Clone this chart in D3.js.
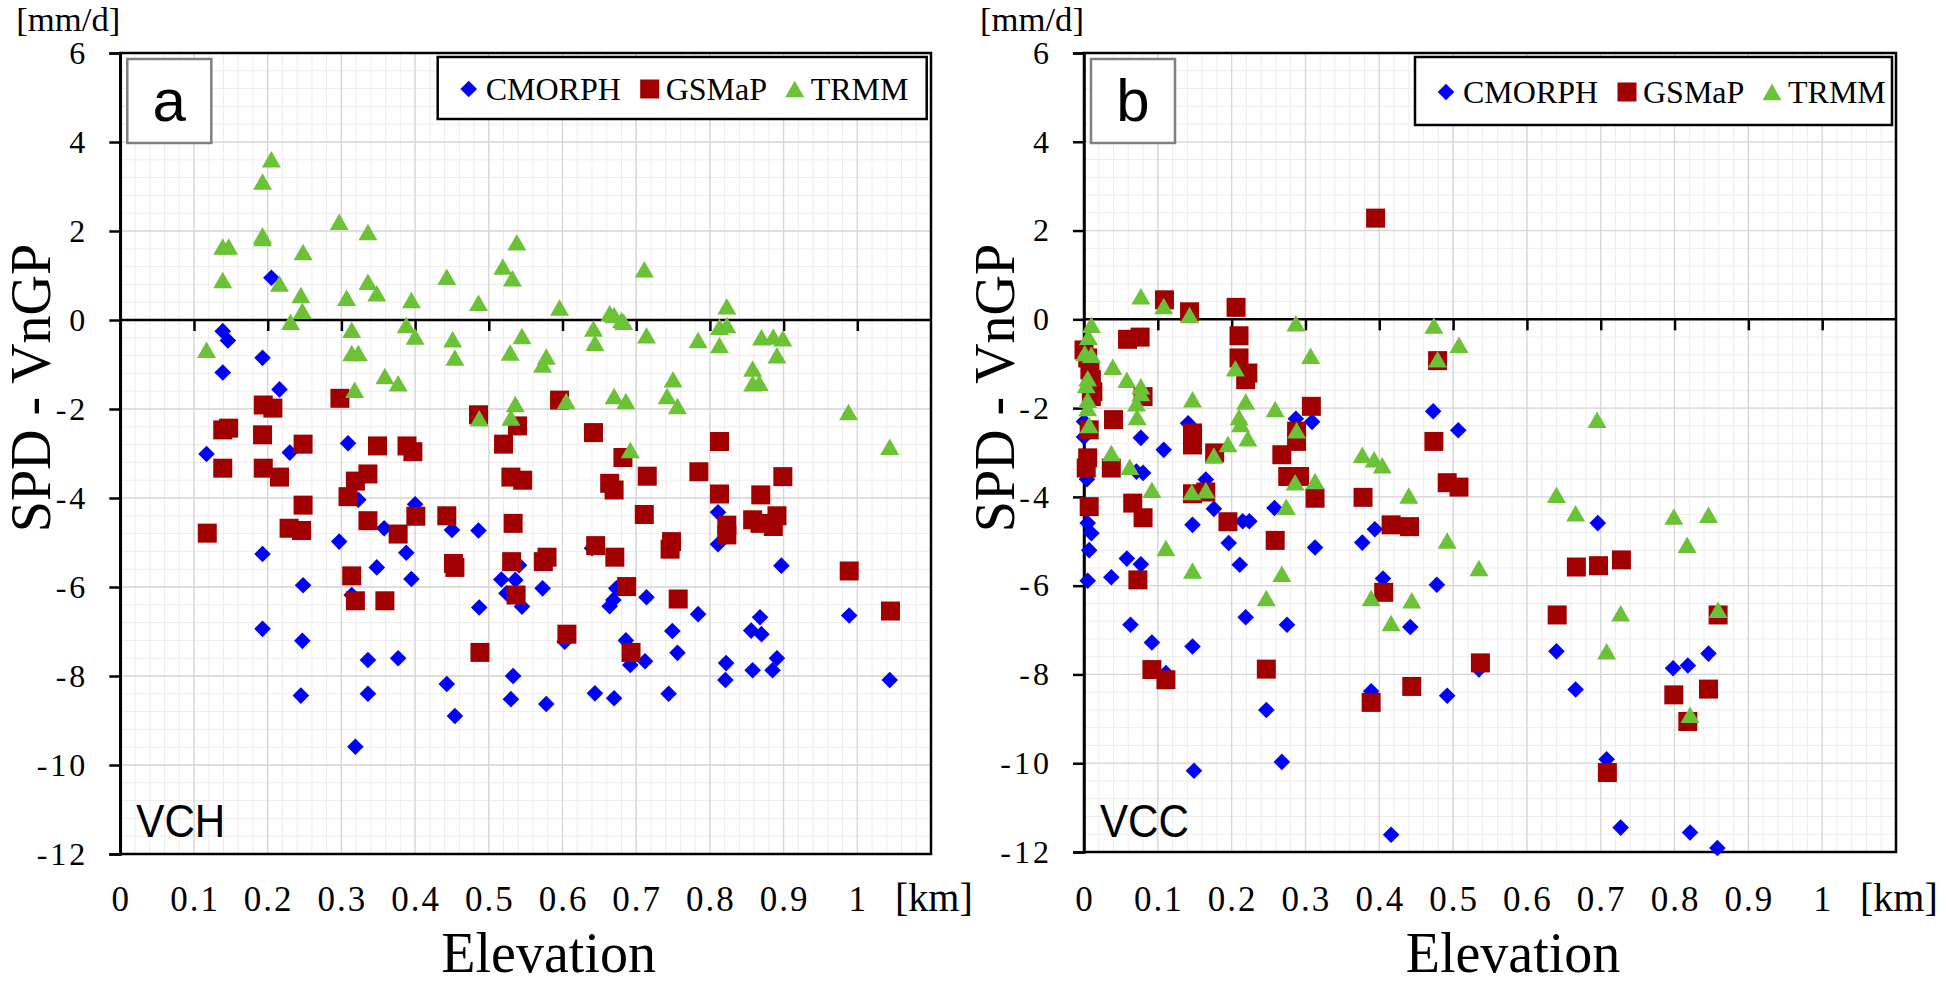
<!DOCTYPE html>
<html>
<head>
<meta charset="utf-8">
<script src="https://cdn.jsdelivr.net/npm/d3@7"></script>
<style>
body { margin: 0; background: #fff; }
svg text { font-family: "Liberation Serif", "Times New Roman", serif; fill: #000; }
</style>
</head>
<body>
<svg id="chart" width="1946" height="985"></svg>
<script>
// [elevation (km), SPD - VnGP (mm/d)]
var vchCmorph = [[0.205,0.95],[0.139,-0.25],[0.146,-0.46],[0.139,-1.18],[0.193,-0.85],[0.216,-1.56],[0.117,-3.01],[0.230,-2.98],[0.309,-2.77],[0.323,-4.04],[0.400,-4.14],[0.193,-5.26],[0.248,-5.96],[0.193,-6.94],[0.247,-7.21],[0.245,-8.44],[0.297,-4.98],[0.319,-9.59],[0.314,-6.18],[0.336,-7.64],[0.336,-8.40],[0.348,-5.56],[0.358,-4.68],[0.377,-7.60],[0.388,-5.23],[0.395,-5.82],[0.443,-8.18],[0.454,-8.90],[0.450,-4.72],[0.486,-4.73],[0.487,-6.46],[0.533,-8.00],[0.530,-8.52],[0.578,-8.63],[0.517,-5.83],[0.536,-5.84],[0.541,-5.51],[0.524,-6.14],[0.545,-6.44],[0.573,-6.03],[0.603,-7.23],[0.640,-5.13],[0.644,-8.39],[0.670,-8.50],[0.664,-6.43],[0.669,-6.29],[0.673,-6.03],[0.686,-7.20],[0.692,-7.75],[0.712,-7.67],[0.714,-6.23],[0.744,-8.40],[0.749,-6.99],[0.756,-7.48],[0.784,-6.61],[0.811,-4.32],[0.811,-5.04],[0.822,-7.71],[0.821,-8.09],[0.858,-7.87],[0.856,-6.98],[0.868,-6.68],[0.870,-7.06],[0.891,-7.60],[0.885,-7.87],[0.897,-5.52],[0.989,-6.64],[1.044,-8.09]];

var vchGsmap = [[0.298,-1.76],[0.194,-1.91],[0.207,-1.98],[0.139,-2.47],[0.147,-2.43],[0.193,-2.58],[0.139,-3.33],[0.194,-3.33],[0.216,-3.53],[0.248,-2.79],[0.349,-2.83],[0.389,-2.83],[0.397,-2.96],[0.336,-3.46],[0.319,-3.62],[0.309,-3.97],[0.248,-4.16],[0.229,-4.68],[0.246,-4.73],[0.118,-4.79],[0.336,-4.51],[0.377,-4.81],[0.401,-4.41],[0.443,-4.40],[0.314,-5.75],[0.319,-6.31],[0.359,-6.31],[0.452,-5.47],[0.454,-5.56],[0.488,-7.47],[0.486,-2.13],[0.596,-1.80],[0.539,-2.38],[0.520,-2.79],[0.642,-2.53],[0.682,-3.09],[0.813,-2.73],[0.530,-3.53],[0.546,-3.60],[0.664,-3.67],[0.670,-3.82],[0.715,-3.51],[0.785,-3.41],[0.813,-3.91],[0.869,-3.93],[0.899,-3.52],[0.533,-4.57],[0.711,-4.37],[0.645,-5.07],[0.671,-5.33],[0.531,-5.43],[0.574,-5.43],[0.579,-5.33],[0.687,-5.99],[0.537,-6.18],[0.757,-6.27],[0.606,-7.06],[0.693,-7.47],[0.748,-4.98],[0.746,-5.15],[0.823,-4.61],[0.823,-4.83],[0.858,-4.49],[0.868,-4.57],[0.886,-4.64],[0.891,-4.40],[0.989,-5.64],[1.045,-6.54]];

var vchTrmm = [[0.205,3.61],[0.193,3.11],[0.193,1.90],[0.193,1.84],[0.139,1.65],[0.147,1.65],[0.139,0.90],[0.216,0.82],[0.248,1.53],[0.245,0.56],[0.247,0.21],[0.231,-0.04],[0.117,-0.67],[0.297,2.21],[0.307,0.50],[0.314,-0.22],[0.314,-0.74],[0.323,-0.74],[0.318,-1.57],[0.336,1.98],[0.336,0.86],[0.348,0.60],[0.359,-1.26],[0.377,-1.42],[0.388,-0.11],[0.400,-0.37],[0.395,0.45],[0.443,0.97],[0.451,-0.43],[0.454,-0.84],[0.486,0.39],[0.538,1.75],[0.519,1.20],[0.532,0.94],[0.596,0.28],[0.545,-0.36],[0.529,-0.73],[0.578,-0.82],[0.573,-1.00],[0.642,-0.19],[0.644,-0.51],[0.664,0.15],[0.670,0.11],[0.680,0.00],[0.683,-0.04],[0.711,1.14],[0.714,-0.34],[0.784,-0.45],[0.823,0.31],[0.813,-0.15],[0.823,-0.11],[0.813,-0.56],[0.870,-0.39],[0.886,-0.37],[0.899,-0.41],[0.891,-0.79],[0.858,-1.09],[0.858,-1.42],[0.867,-1.41],[0.750,-1.33],[0.742,-1.71],[0.756,-1.93],[0.670,-1.71],[0.686,-1.82],[0.605,-1.82],[0.536,-1.89],[0.530,-2.19],[0.487,-2.21],[0.692,-2.92],[0.988,-2.07],[1.044,-2.85]];

var vccCmorph = [[0.473,-2.07],[0.507,-2.50],[0.309,-2.31],[0.287,-2.24],[0.141,-2.34],[0.077,-2.67],[0.108,-2.94],[0.071,-3.43],[0.080,-3.46],[0.165,-3.61],[0.000,-2.30],[0.000,-2.65],[0.004,-3.60],[0.005,-4.59],[0.010,-4.82],[0.007,-5.20],[0.005,-5.89],[0.037,-5.81],[0.058,-5.39],[0.077,-5.52],[0.063,-6.88],[0.092,-7.28],[0.111,-7.97],[0.147,-7.37],[0.147,-4.63],[0.149,-10.17],[0.176,-4.27],[0.196,-5.04],[0.211,-5.53],[0.219,-6.71],[0.215,-4.55],[0.224,-4.55],[0.247,-8.80],[0.258,-4.25],[0.275,-6.88],[0.268,-9.97],[0.313,-5.14],[0.377,-5.03],[0.394,-4.73],[0.405,-5.84],[0.389,-8.38],[0.442,-6.93],[0.416,-11.61],[0.478,-5.98],[0.492,-8.48],[0.535,-7.89],[0.696,-4.59],[0.640,-7.48],[0.666,-8.34],[0.708,-9.91],[0.727,-11.45],[0.821,-11.56],[0.858,-11.91],[0.798,-7.86],[0.818,-7.80],[0.846,-7.53]];

var vccGsmap = [[0.395,2.28],[0.109,0.44],[0.143,0.17],[0.206,0.27],[0.059,-0.45],[0.076,-0.40],[0.210,-0.37],[0.000,-0.69],[0.005,-0.87],[0.008,-1.14],[0.010,-1.36],[0.012,-1.63],[0.010,-1.74],[0.210,-0.87],[0.222,-1.21],[0.219,-1.36],[0.080,-1.74],[0.040,-2.26],[0.007,-2.49],[0.147,-2.56],[0.147,-2.83],[0.177,-3.01],[0.005,-3.12],[0.003,-3.35],[0.037,-3.35],[0.007,-4.22],[0.066,-4.14],[0.080,-4.47],[0.147,-3.93],[0.165,-3.89],[0.195,-4.56],[0.073,-5.87],[0.308,-1.96],[0.288,-2.52],[0.288,-2.75],[0.268,-3.05],[0.276,-3.54],[0.292,-3.54],[0.313,-4.03],[0.378,-4.01],[0.416,-4.63],[0.441,-4.67],[0.259,-4.98],[0.406,-6.15],[0.479,-0.93],[0.474,-2.75],[0.492,-3.68],[0.508,-3.78],[0.092,-7.89],[0.111,-8.12],[0.247,-7.88],[0.389,-8.63],[0.444,-8.27],[0.667,-5.58],[0.697,-5.55],[0.728,-5.42],[0.641,-6.66],[0.537,-7.74],[0.799,-8.46],[0.846,-8.33],[0.818,-9.06],[0.709,-10.21],[0.859,-6.66]];

var vccTrmm = [[0.077,0.52],[0.108,0.30],[0.143,0.10],[0.287,-0.09],[0.474,-0.14],[0.508,-0.57],[0.479,-0.90],[0.307,-0.82],[0.205,-1.10],[0.039,-1.07],[0.058,-1.36],[0.077,-1.51],[0.077,-1.66],[0.071,-1.89],[0.072,-2.20],[0.147,-1.80],[0.219,-1.85],[0.210,-2.20],[0.212,-2.36],[0.222,-2.68],[0.259,-2.02],[0.195,-2.81],[0.288,-2.50],[0.037,-3.01],[0.062,-3.32],[0.176,-3.07],[0.377,-3.05],[0.393,-3.15],[0.404,-3.29],[0.286,-3.67],[0.313,-3.64],[0.092,-3.84],[0.146,-3.89],[0.165,-3.85],[0.440,-3.97],[0.274,-4.22],[0.111,-5.15],[0.147,-5.66],[0.268,-5.73],[0.247,-6.28],[0.389,-6.28],[0.416,-6.84],[0.444,-6.33],[0.492,-4.98],[0.640,-3.95],[0.666,-4.37],[0.799,-4.44],[0.846,-4.40],[0.817,-5.08],[0.535,-5.60],[0.727,-6.62],[0.708,-7.48],[0.859,-6.54],[0.821,-8.91],[0.695,-2.26],[0.010,-0.12],[0.006,-0.39],[0.001,-0.76],[0.010,-0.80],[0.005,-1.33],[0.003,-1.48],[0.005,-1.81],[0.005,-2.00],[0.007,-2.38]];

var seriesNames = ['CMORPH', 'GSMaP', 'TRMM'];
var seriesColors = ['#0000ff', '#a00000', '#6cc236'];
var xTicks = [0, 0.1, 0.2, 0.3, 0.4, 0.5, 0.6, 0.7, 0.8, 0.9, 1];
var yTicks = [-12, -10, -8, -6, -4, -2, 0, 2, 4, 6];

var panels = [
    {letter: 'a', site: 'VCH', left: 120.3, right: 931, top: 53, bottom: 854,
     legendX: 437.7, legendW: 489, legendH: 62, series: [vchCmorph, vchGsmap, vchTrmm]},
    {letter: 'b', site: 'VCC', left: 1084, right: 1896, top: 53, bottom: 852,
     legendX: 1415, legendW: 477, legendH: 68, series: [vccCmorph, vccGsmap, vccTrmm]}
];

var svg = d3.select('#chart');

// marker shapes, centred on 0,0
function diamondPath(s) { return 'M0,' + (-s) + 'L' + s + ',0L0,' + s + 'L' + (-s) + ',0Z'; }
function squarePath(s) { return 'M' + (-s) + ',' + (-s) + 'h' + (2 * s) + 'v' + (2 * s) + 'h' + (-2 * s) + 'Z'; }
function trianglePath(w, h) { return 'M0,' + (-h / 2) + 'L' + (w / 2) + ',' + (h / 2) + 'L' + (-w / 2) + ',' + (h / 2) + 'Z'; }
var markerPaths = [diamondPath(8.3), squarePath(9.5), trianglePath(19, 16.5)];

panels.forEach(function(p) {
    var x = d3.scaleLinear().domain([0, 1.1]).range([p.left, p.right]);
    var y = d3.scaleLinear().domain([-12, 6]).range([p.bottom, p.top]);
    var g = svg.append('g');

    // minor grid
    g.append('g').selectAll('line.vmin').data(d3.range(0, 1.1001, 0.02)).enter().append('line')
        .attr('x1', d => x(d)).attr('x2', d => x(d)).attr('y1', p.top).attr('y2', p.bottom)
        .attr('stroke', '#ededed').attr('stroke-width', 1);
    g.append('g').selectAll('line.hmin').data(d3.range(-12, 6.001, 0.4)).enter().append('line')
        .attr('x1', p.left).attr('x2', p.right).attr('y1', d => y(d)).attr('y2', d => y(d))
        .attr('stroke', '#ededed').attr('stroke-width', 1);
    // major grid
    g.append('g').selectAll('line').data(d3.range(0, 1.1001, 0.1)).enter().append('line')
        .attr('x1', d => x(d)).attr('x2', d => x(d)).attr('y1', p.top).attr('y2', p.bottom)
        .attr('stroke', '#d6d6d6').attr('stroke-width', 1.3);
    g.append('g').selectAll('line').data(yTicks).enter().append('line')
        .attr('x1', p.left).attr('x2', p.right).attr('y1', d => y(d)).attr('y2', d => y(d))
        .attr('stroke', '#d6d6d6').attr('stroke-width', 1.3);

    // plot border
    g.append('rect').attr('x', p.left).attr('y', p.top)
        .attr('width', p.right - p.left).attr('height', p.bottom - p.top)
        .attr('fill', 'none').attr('stroke', '#000').attr('stroke-width', 2.5);

    // y axis with outward ticks (plain hyphen for the sign, as in the figure)
    var yAxis = g.append('g').attr('transform', 'translate(' + p.left + ',0)')
        .call(d3.axisLeft(y).tickValues(yTicks).tickSize(11).tickPadding(21).tickFormat(d => String(d)));
    yAxis.select('.domain').attr('stroke-width', 2.5);
    yAxis.selectAll('.tick line').attr('stroke-width', 2.5);
    yAxis.selectAll('.tick text').attr('font-size', 32).attr('letter-spacing', 3)
        .style('font-family', '"Liberation Serif", serif');

    // x axis drawn through zero, ticks pointing down
    var xAxis = g.append('g').attr('transform', 'translate(0,' + y(0) + ')')
        .call(d3.axisBottom(x).tickValues(xTicks.slice(1)).tickSize(11).tickFormat(''));
    xAxis.select('.domain').remove();
    xAxis.selectAll('.tick line').attr('stroke-width', 2.5);
    g.append('line').attr('x1', p.left).attr('x2', p.right).attr('y1', y(0)).attr('y2', y(0))
        .attr('stroke', '#000').attr('stroke-width', 2.5);

    // x tick labels sit under the plot
    g.append('g').selectAll('text').data(xTicks).enter().append('text')
        .attr('x', d => x(d) + 1).attr('y', 911)
        .attr('text-anchor', 'middle').attr('font-size', 35).attr('letter-spacing', 2)
        .text(d => String(d));

    g.append('text').attr('x', p.right - 36).attr('y', 911).attr('font-size', 40).text('[km]');
    g.append('text').attr('x', (p.left + p.right) / 2 + 23).attr('y', 972)
        .attr('text-anchor', 'middle').attr('font-size', 56).text('Elevation');
    g.append('text').attr('x', p.left - 104).attr('y', 31).attr('font-size', 34)
        .attr('textLength', 104).attr('lengthAdjust', 'spacingAndGlyphs').text('[mm/d]');
    g.append('text').attr('transform', 'translate(' + (p.left - 70) + ',388) rotate(-90)')
        .attr('text-anchor', 'middle').attr('font-size', 56).text('SPD - VnGP');

    // panel letter box
    g.append('rect').attr('x', p.left + 7).attr('y', 59).attr('width', 84).attr('height', 84)
        .attr('fill', '#fff').attr('stroke', '#7f7f7f').attr('stroke-width', 2.5);
    g.append('text').attr('x', p.left + 49).attr('y', 121).attr('text-anchor', 'middle')
        .attr('font-size', 60).style('font-family', '"Liberation Sans", Arial, sans-serif')
        .text(p.letter);

    // site name
    g.append('text').attr('x', p.left + 16).attr('y', 837).attr('font-size', 47)
        .attr('textLength', 89).attr('lengthAdjust', 'spacingAndGlyphs')
        .style('font-family', '"Liberation Sans", Arial, sans-serif').text(p.site);

    // legend
    g.append('rect').attr('x', p.legendX).attr('y', 57).attr('width', p.legendW).attr('height', p.legendH)
        .attr('fill', '#fff').attr('stroke', '#000').attr('stroke-width', 2.5);
    var symX = [31, 212, 357];
    var txtX = [48, 228, 373];
    var legY = 57 + p.legendH / 2 + 1;
    seriesNames.forEach(function(name, i) {
        g.append('path').attr('d', markerPaths[i])
            .attr('transform', 'translate(' + (p.legendX + symX[i]) + ',' + legY + ')')
            .attr('fill', seriesColors[i]);
        g.append('text').attr('x', p.legendX + txtX[i]).attr('y', legY + 11)
            .attr('font-size', 32).text(name);
    });

    // points: CMORPH under GSMaP under TRMM
    p.series.forEach(function(data, i) {
        g.append('g').selectAll('path').data(data).enter().append('path')
            .attr('d', markerPaths[i])
            .attr('transform', d => 'translate(' + x(d[0]) + ',' + y(d[1]) + ')')
            .attr('fill', seriesColors[i]);
    });
});
</script>
</body>
</html>
